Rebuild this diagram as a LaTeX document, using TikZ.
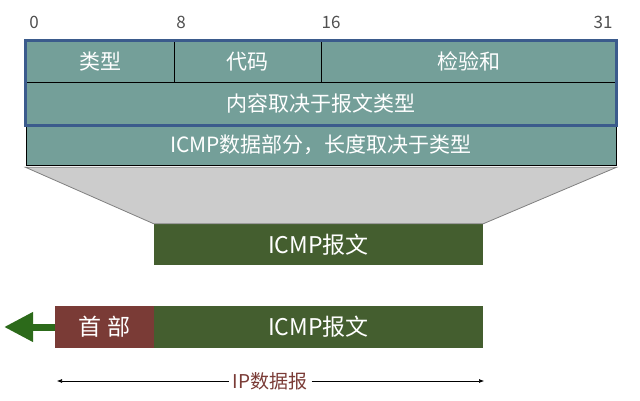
\documentclass[tikz,border=0pt]{standalone}
\usepackage{fontspec}
\setmainfont{Noto Sans CJK SC}
\usetikzlibrary{arrows.meta}
\definecolor{cellteal}{HTML}{749F99}
\definecolor{frameblue}{HTML}{3B5B8C}
\definecolor{msggreen}{HTML}{445E2F}
\definecolor{headred}{HTML}{7A3B36}
\definecolor{funnelgray}{HTML}{CCCCCC}
\definecolor{arrowgreen}{HTML}{2C6A1A}
\definecolor{bitgray}{HTML}{505050}
\begin{document}
\begin{tikzpicture}[x=1pt,y=-1pt,
  cell/.style={draw=black, line width=0.7pt, fill=cellteal, text=white, inner sep=0pt,
    font=\fontsize{21}{25}\selectfont},
  bitnum/.style={text=bitgray, font=\fontsize{17}{20}\selectfont},
  block/.style={fill=#1, text=white, inner sep=0pt, font=\fontsize{23}{27}\selectfont},
  span/.style={-{Latex[length=5pt,width=4pt]}, line width=0.6pt}]
\useasboundingbox (0,0) rectangle (640,401);
% bit positions
\node[bitnum] (b0) at (34,22) {0};
\node[bitnum] (b8) at (181,22) {8};
\node[bitnum] (b16) at (331,22) {16};
\node[bitnum] (b31) at (603,22) {31};
% ICMP header fields
\node[cell, minimum width=148pt, minimum height=41pt] (type) at (100,61.5) {类型};
\node[cell, minimum width=147pt, minimum height=41pt] (code) at (247.5,61.5) {代码};
\node[cell, minimum width=295pt, minimum height=41pt] (checksum) at (468.5,61.5) {检验和};
\node[cell, minimum width=590pt, minimum height=43pt] (content) at (321,103.5) {内容取决于报文类型};
\node[cell, minimum width=590pt, minimum height=40pt] (data) at (321,145) {ICMP数据部分，长度取决于类型};
\draw[frameblue, line width=3.5pt] (type.north west) rectangle (content.south east);
% ICMP message
\node[block=msggreen, minimum width=329pt, minimum height=41pt] (msg) at (318.5,244.5) {ICMP报文};
\draw[fill=funnelgray, draw=gray, line width=0.8pt] ([yshift=-2pt]data.south west) -- ([yshift=-2pt]data.south east)
  -- (msg.north east) -- (msg.north west) -- cycle;
% IP datagram
\node[block=headred, minimum width=99pt, minimum height=42pt] (head) at (104.5,327) {首 部};
\node[block=msggreen, minimum width=329pt, minimum height=42pt] (ipmsg) at (318.5,327) {ICMP报文};
\coordinate (tip) at (4,327);
\draw[arrowgreen, line width=7pt, -{Triangle[length=29pt,width=28pt]}] (head.west) -- (tip);
\node[text=headred, inner sep=4pt, font=\fontsize{19}{22}\selectfont] (iplen) at (270,381) {IP数据报};
\coordinate (ipL) at (57,381);
\coordinate (ipR) at (484,381);
\draw[span] (iplen) -- (ipL);
\draw[span] (iplen) -- (ipR);
\end{tikzpicture}
\end{document}
